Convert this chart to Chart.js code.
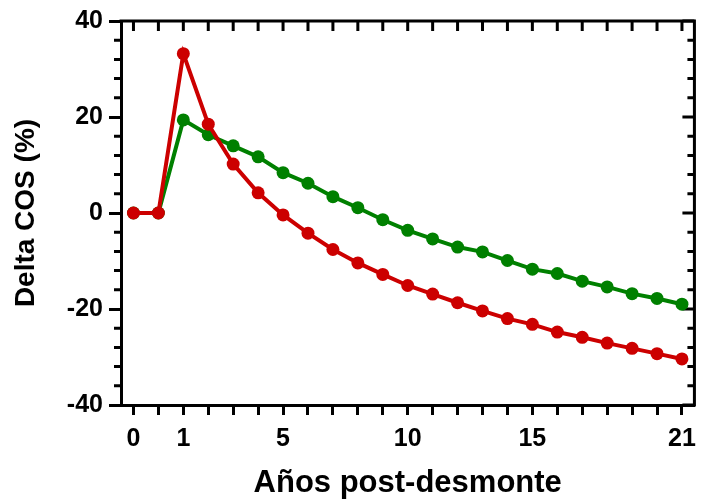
<!DOCTYPE html>
<html>
<head>
<meta charset="utf-8">
<script src="https://cdn.jsdelivr.net/npm/chart.js@4"></script>
<style>
  html, body { margin: 0; padding: 0; background: #fff; }
  #box { width: 705px; height: 502px; }
</style>
</head>
<body>
<div id="box"><canvas id="delta"></canvas></div>
<script>
//-------------------------------------------------------------------------------------------------------
// Delta COS (%) vs años post-desmonte
//-------------------------------------------------------------------------------------------------------
/**
 * @name years  x categories (one per point)
 */
const years = ['0', '0.5', '1', '2', '3', '4', '5', '6', '7', '8', '9', '10',
               '11', '12', '13', '14', '15', '16', '17', '18', '19', '20', '21'];
/**
 * @name shown_years  x tick labels that get printed
 */
const shown_years = ['0', '1', '5', '10', '15', '21'];
/**
 * @name red_values
 */
const red_values = [0, 0, 33.2, 18.5, 10.2, 4.2, -0.4, -4.2, -7.6, -10.4, -12.8, -15.1,
                    -16.9, -18.7, -20.4, -22.0, -23.2, -24.8, -25.9, -27.1, -28.2, -29.3, -30.4];
/**
 * @name green_values
 */
const green_values = [0, 0, 19.4, 16.3, 14.0, 11.7, 8.4, 6.2, 3.4, 1.1, -1.4, -3.6,
                      -5.4, -7.1, -8.1, -9.9, -11.7, -12.6, -14.2, -15.4, -16.8, -17.8, -19.0];
/**
 * @name y_labels  y tick labels that get printed
 */
const y_labels = [-40, -20, 0, 20, 40];

const RED = '#cc0000';
const GREEN = '#008000';
const tick_font = {family: "'Liberation Sans', Arial, sans-serif", size: 25, weight: 'bold'};

/*------------------------------------------------------*/
// closes the box: top and right lines with inward ticks,
// plus the short minor ticks on the left axis
/*------------------------------------------------------*/
const frame = {
    id: 'frame',
    beforeDatasetsDraw(chart) {
        const {ctx, chartArea: a, scales: {x, y}} = chart;
        ctx.save();
        ctx.strokeStyle = '#000';
        ctx.lineWidth = 3;
        ctx.lineCap = 'butt';
        ctx.beginPath();
        ctx.moveTo(a.left - 1.5, a.top);
        ctx.lineTo(a.right, a.top);
        ctx.lineTo(a.right, a.bottom + 1.5);
        ctx.stroke();
        ctx.beginPath();
        x.ticks.forEach((t, i) => {
            const px = x.getPixelForTick(i);
            ctx.moveTo(px, a.top);
            ctx.lineTo(px, a.top + 10);
        });
        y.ticks.forEach((t, i) => {
            const py = y.getPixelForTick(i);
            const major = y_labels.includes(t.value);
            ctx.moveTo(a.right, py);
            ctx.lineTo(a.right - (major ? 12 : 7), py);
            if (!major) {
                ctx.moveTo(a.left, py);
                ctx.lineTo(a.left - 7, py);
            }
        });
        ctx.stroke();
        ctx.restore();
    }
};

const data_line = {
    labels: years,
    datasets: [
        {
            label: 'rojo',
            data: red_values,
            borderColor: RED,
            backgroundColor: RED,
            pointBackgroundColor: RED,
            pointBorderColor: RED,
            borderWidth: 4,
            pointRadius: 6.5,
            pointBorderWidth: 0,
            tension: 0
        },
        {
            label: 'verde',
            data: green_values,
            borderColor: GREEN,
            backgroundColor: GREEN,
            pointBackgroundColor: GREEN,
            pointBorderColor: GREEN,
            borderWidth: 4,
            pointRadius: 6.5,
            pointBorderWidth: 0,
            tension: 0
        }
    ]
};

const config_line = {
    type: 'line',
    data: data_line,
    plugins: [frame],
    options: {
        responsive: true,
        maintainAspectRatio: false,
        animation: false,
        events: [],
        layout: {padding: {top: 19, right: 4, left: 0, bottom: 0}},
        plugins: {legend: {display: false}, tooltip: {enabled: false}},
        scales: {
            x: {
                type: 'category',
                offset: true,
                afterFit: (scale) => { scale.height = 97; },
                border: {display: true, color: '#000', width: 3},
                grid: {
                    drawOnChartArea: false,
                    offset: false,
                    tickLength: 10,
                    tickWidth: 3,
                    tickColor: '#000'
                },
                ticks: {
                    autoSkip: false,
                    maxRotation: 0,
                    padding: 9,
                    color: '#000',
                    font: tick_font,
                    callback: function (value) {
                        const lab = this.getLabelForValue(value);
                        return shown_years.includes(lab) ? lab : '';
                    }
                },
                title: {
                    display: true,
                    text: 'Años post-desmonte',
                    color: '#000',
                    font: {family: "'Liberation Sans', Arial, sans-serif", size: 31, weight: 'bold'},
                    padding: {top: 0, bottom: 0}
                }
            },
            y: {
                min: -40,
                max: 40,
                afterFit: (scale) => { scale.width = 121; },
                border: {display: true, color: '#000', width: 3},
                grid: {
                    drawOnChartArea: false,
                    tickLength: 12,
                    tickWidth: 3,
                    tickColor: (c) => y_labels.includes(c.tick.value) ? '#000' : 'rgba(0,0,0,0)'
                },
                ticks: {
                    stepSize: 4,
                    autoSkip: false,
                    padding: 6,
                    color: '#000',
                    font: tick_font,
                    callback: (value) => y_labels.includes(value) ? value : ''
                },
                title: {
                    display: true,
                    text: 'Delta COS (%)',
                    color: '#000',
                    font: {family: "'Liberation Sans', Arial, sans-serif", size: 28, weight: 'bold'},
                    padding: {top: 9, bottom: 0}
                }
            }
        }
    }
};

const line_style = new Chart(document.getElementById('delta'), config_line);
</script>
</body>
</html>
